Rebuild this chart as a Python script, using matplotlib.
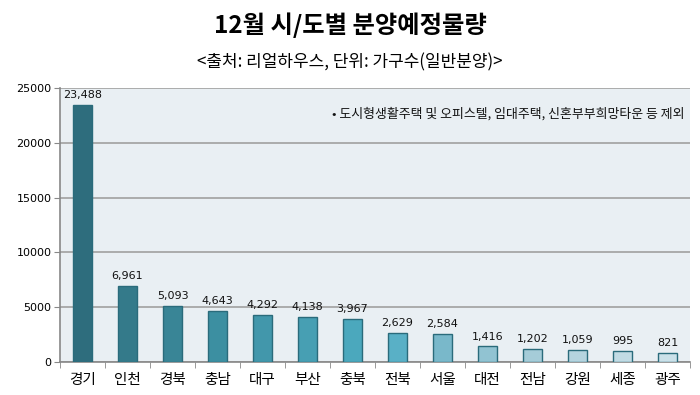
import matplotlib
matplotlib.use("Agg")
import matplotlib.pyplot as plt
import numpy as np

plt.rcParams['font.family'] = ['Noto Sans CJK KR', 'DejaVu Sans']

categories = ['경기', '인천', '경북', '충남', '대구', '부산', '충북', '전북', '서울', '대전', '전남', '강원', '세종', '광주']
values = [23488, 6961, 5093, 4643, 4292, 4138, 3967, 2629, 2584, 1416, 1202, 1059, 995, 821]
colors = ['#2e6d7d', '#347a8a', '#398596', '#3c8fa1', '#4297ab', '#479fb3', '#4ba8bd',
          '#59b0c6', '#79b8ca', '#91c3d2', '#a5ccd8', '#b5d4df', '#c1dbe4', '#cbe1e9']
yticks = [0, 5000, 10000, 15000, 20000, 25000]

fig = plt.figure(figsize=(7, 3.95), dpi=100)
fig.patch.set_facecolor('white')
ax = fig.add_axes([60/700, (395-362)/395, 630/700, (362-88)/395])
ax.set_facecolor('#e9eff3')

x = np.arange(len(categories))
ax.bar(x, values, width=0.42, color=colors, edgecolor='#2a6b7b', linewidth=1.0, zorder=3)
for xi, v in zip(x, values):
    ax.text(xi, v + 450, f'{v:,}', ha='center', va='bottom', fontsize=8,
            family=['DejaVu Sans'], color='#111111', zorder=4)

ax.set_xlim(-0.5, len(categories) - 0.5)
ax.set_ylim(0, 25000)
ax.set_yticks(yticks)
ax.set_yticklabels([str(t) for t in yticks], fontsize=8, family=['DejaVu Sans'])
ax.yaxis.grid(True, color='#a0a0a0', linewidth=1.2, zorder=1)
ax.set_axisbelow(True)

ax.set_xticks(x)
ax.set_xticklabels(categories, fontsize=10.5)
ax.tick_params(axis='x', length=0, pad=8)
ax.set_xticks(np.arange(-0.5, len(categories) + 0.5, 1), minor=True)
ax.tick_params(axis='x', which='minor', length=4, color='#888888', direction='out')
ax.tick_params(axis='y', length=4, color='#888888', pad=2)

for s in ['top', 'right']:
    ax.spines[s].set_visible(False)
ax.spines['left'].set_color('#888888')
ax.spines['bottom'].set_color('#888888')
ax.spines['left'].set_linewidth(1.2)
ax.spines['bottom'].set_linewidth(1.2)

ax.text(0.432, 0.905, '• 도시형생활주택 및 오피스텔, 임대주택, 신혼부부희망타운 등 제외',
        transform=ax.transAxes, fontsize=9.3, ha='left', va='center', color='#111111')

fig.text(0.5, (395-25)/395, '12월 시/도별 분양예정물량', ha='center', va='center',
         fontsize=17.5, fontweight='bold')
fig.text(0.5, (395-62)/395, '<출처: 리얼하우스, 단위: 가구수(일반분양)>', ha='center', va='center',
         fontsize=12.2)

fig.savefig('out.png', dpi=100)
